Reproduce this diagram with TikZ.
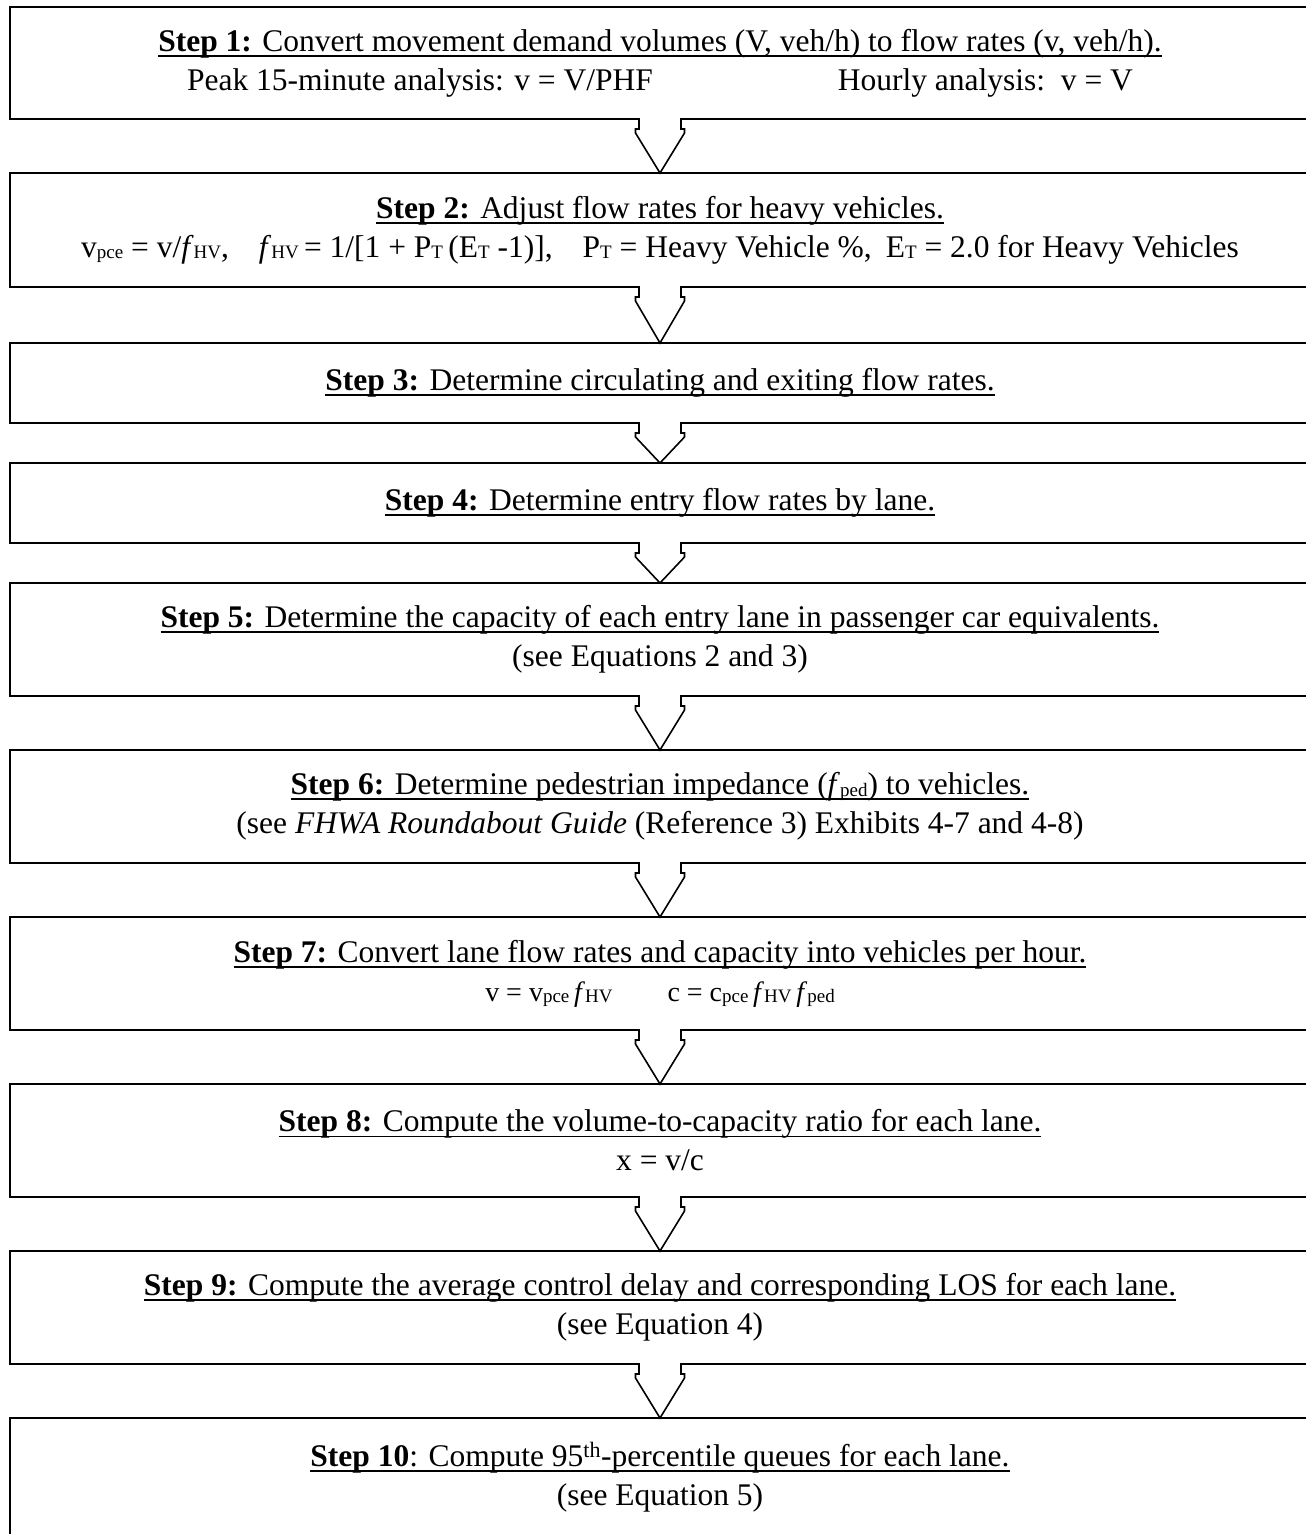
\documentclass[tikz,border=0pt]{standalone}
\usepackage{fontspec}
\setmainfont{Liberation Serif}
\usetikzlibrary{calc}
\newcommand\sm[1]{\raisebox{-1.5pt}{\fontsize{19}{19}\selectfont #1}}
\newcommand\stepline[1]{\setbox0\hbox{#1}\rlap{\rule[-5.5pt]{\wd0}{1.8pt}}\box0}

\begin{document}
\begin{tikzpicture}[x=1pt,y=-1pt,
    stepbox/.style={draw,line width=1.6pt,outer sep=0pt,minimum width=1300,align=center,font=\fontsize{31.5}{39}\selectfont},
    flowarrow/.style={line width=1.6pt,line join=miter}]
                \useasboundingbox (0,0) rectangle (1306,1534);
                \foreach \y/\h/\n/\t in {63/112/s1/{\stepline{\textbf{Step 1:} Convert movement demand volumes (V, veh/h) to flow rates (v, veh/h).}\\Peak 15-minute analysis: v = V/PHF\hspace{185pt}Hourly analysis:\ \ v = V},
                    230/114/s2/{\stepline{\textbf{Step 2:} Adjust flow rates for heavy vehicles.}\\v\sm{pce} = v/\textit{f}\sm{HV},\hspace{30pt}\textit{f}\sm{HV}\,= 1/[1 + P\sm{T}\,(E\sm{T} -1)],\hspace{30pt}P\sm{T} = Heavy Vehicle \%,\hspace{14pt}E\sm{T} = 2.0 for Heavy Vehicles},
                    383/80/s3/{\stepline{\textbf{Step 3:} Determine circulating and exiting flow rates.}},
                    503/80/s4/{\stepline{\textbf{Step 4:} Determine entry flow rates by lane.}},
                    639.5/113/s5/{\stepline{\textbf{Step 5:} Determine the capacity of each entry lane in passenger car equivalents.}\\(see Equations 2 and 3)},
                    806.5/113/s6/{\stepline{\textbf{Step 6:} Determine pedestrian impedance (\textit{f}\sm{ped}) to vehicles.}\\(see \textit{FHWA Roundabout Guide} (Reference 3) Exhibits 4-7 and 4-8)},
                    973.5/113/s7/{\stepline{\textbf{Step 7:} Convert lane flow rates and capacity into vehicles per hour.}\\{\fontsize{28}{34}\selectfont v = v\sm{pce}\,\textit{f}\sm{HV}\hspace{55pt}c = c\sm{pce}\,\textit{f}\sm{HV}\,\textit{f}\sm{ped}}},
                    1140.5/113/s8/{\stepline{\textbf{Step 8:} Compute the volume-to-capacity ratio for each lane.}\\x = v/c},
                    1307.5/113/s9/{\stepline{\textbf{Step 9:} Compute the average control delay and corresponding LOS for each lane.}\\(see Equation 4)},
                    1477/118/s10/{\stepline{\textbf{Step 10}: Compute 95\textsuperscript{th}-percentile queues for each lane.}\\(see Equation 5)}}
                \node[stepbox,minimum height=\h] (\n) at (660,\y) {\t};
                \foreach \s/\t in {s1/s2, s2/s3, s3/s4, s4/s5, s5/s6, s6/s7, s7/s8, s8/s9, s9/s10}{
                \fill[white] ($(\s.south)+(-20,-2)$) rectangle ($(\s.south)+(20,2)$);
                \draw[flowarrow] ($(\s.south)+(-21,-0.8)$) -- ++(0,10.8) -- ++(-3.5,0) -- ++(0,4) -- (\t.north) -- ($(\s.south)+(24.5,14)$) -- ++(0,-4) -- ++(-3.5,0) -- ++(0,-10.8);
                }
            \end{tikzpicture}
\end{document}
